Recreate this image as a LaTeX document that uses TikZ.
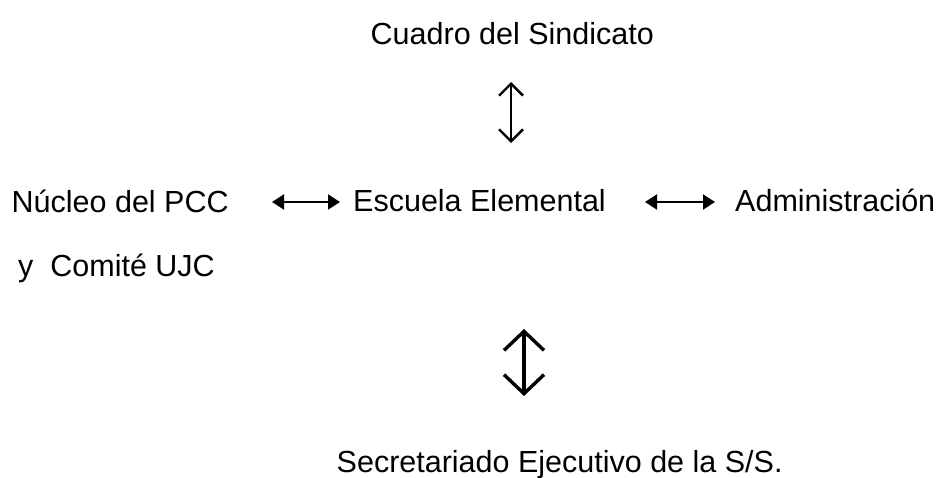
\documentclass[tikz,border=0pt]{standalone}
\usepackage{fontspec}
\setmainfont{Liberation Sans}
\usetikzlibrary{arrows.meta}
\begin{document}
\begin{tikzpicture}[x=1pt,y=-1pt,
  lbl/.style={anchor=base west,inner sep=0pt,font=\fontsize{30.5}{36}\selectfont},
  vthin/.style={line width=2.4pt,{Straight Barb[length=12pt,width=24pt]}-{Straight Barb[length=12pt,width=24pt]}},
  vthick/.style={line width=3.4pt,line cap=round,{Straight Barb[length=19pt,width=40pt]}-{Straight Barb[length=19pt,width=40pt]}},
  hlink/.style={line width=2pt,{Triangle[length=12pt,width=15pt]}-{Triangle[length=12pt,width=15pt]}}]
\useasboundingbox (0,0) rectangle (938,478);
\node[lbl] (cuadro) at (370.5,45) {Cuadro del Sindicato};
\node[lbl] (nucleo) at (11.5,213) {Núcleo del PCC};
\node[lbl] (escuela) at (353,212) {Escuela Elemental};
\node[lbl] (admin) at (735,212) {Administración};
\node[lbl] (comite) at (18,277) {y\ \ Comité UJC};
\node[lbl] (secre) at (336.5,473) {Secretariado Ejecutivo de la S/S.};
\coordinate (t1) at (511,82);
\coordinate (t2) at (511,143);
\coordinate (b1) at (524,329);
\coordinate (b2) at (524,396);
\coordinate (l1) at (272,202);
\coordinate (l2) at (340,202);
\coordinate (r1) at (645,202);
\coordinate (r2) at (715,202);
\draw[vthin] (t1) -- (t2);
\draw[vthick] (b1) -- (b2);
\draw[hlink] (l1) -- (l2);
\draw[hlink] (r1) -- (r2);
\end{tikzpicture}
\end{document}
